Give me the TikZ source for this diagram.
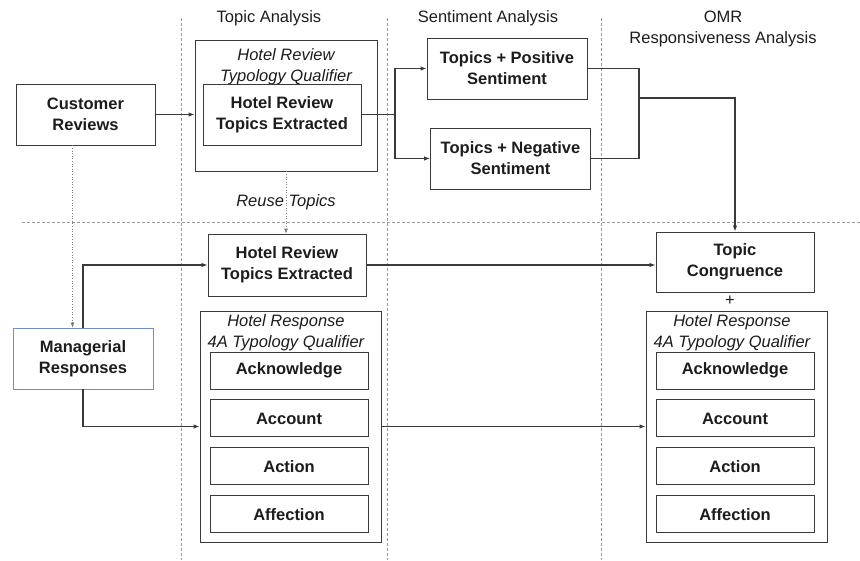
\documentclass[tikz,border=0pt]{standalone}
\usepackage{fontspec}
\setmainfont{Liberation Sans}
\usetikzlibrary{
  arrows.meta,
  positioning
}
\definecolor{flowInk}{HTML}{1C1C1C}
\definecolor{flowLine}{HTML}{3A3A3A}
\definecolor{flowGuide}{HTML}{9A9A9A}
\definecolor{flowBlue}{HTML}{6F8FC6}
\tikzset{
  every node/.style={font=\fontsize{16.5}{21}\selectfont, text=flowInk},
  header/.style={align=center, inner sep=0pt},
  qualifier/.style={align=center, inner sep=0pt, font=\fontsize{16.5}{21}\selectfont\itshape},
  box/.style={
    draw=flowLine,
    line width=0.9pt,
    align=center,
    inner sep=2pt,
    font=\fontsize{16.5}{21}\selectfont\bfseries
  },
  bigbox/.style={box, minimum width=158pt, minimum height=61pt},
  catbox/.style={box, minimum width=158pt, minimum height=37pt},
  frame/.style={draw=flowLine, line width=0.9pt, inner sep=0pt},
  guide/.style={draw=flowGuide, line width=0.6pt, dash pattern=on 3pt off 2pt},
  link/.style={
    -{Latex[length=6pt,width=4.5pt]},
    line width=1.1pt,
    draw=flowLine
  },
  plainlink/.style={line width=1.1pt, draw=flowLine},
  dottedlink/.style={
    -{Latex[length=5pt,width=4pt]},
    line width=0.6pt,
    draw=flowGuide!80!black,
    dotted
  }
}

\begin{document}
\begin{tikzpicture}[x=1pt, y=-1pt, node distance=10pt]
  \useasboundingbox (0,0) rectangle (860,560);

  \draw[guide] (181,18) -- (181,560);
  \draw[guide] (387,18) -- (387,560);
  \draw[guide] (601,18) -- (601,560);
  \draw[guide] (22,222) -- (860,222);

  \node[header] (hTopic) at (269,18) {Topic Analysis};
  \node[header] (hSenti) at (488,18) {Sentiment Analysis};
  \node[header] (hOmr) at (723,29) {OMR\\Responsiveness Analysis};

  \node[bigbox, minimum width=139pt] (cr) at (85.5,114.5) {Customer\\Reviews};
  \node[frame, minimum width=182pt, minimum height=131pt] (typo) at (286,105.5) {};
  \node[qualifier] (typoTitle) at (286,66.5) {Hotel Review\\Typology Qualifier};
  \node[bigbox] (hrte) at (282,114.5) {Hotel Review\\Topics Extracted};

  \node[bigbox, minimum width=160pt] (pos) at (507,68.5) {Topics + Positive\\Sentiment};
  \node[bigbox, minimum width=160pt] (neg) at (510.5,158.5) {Topics + Negative\\Sentiment};

  \coordinate (split) at (395,114.5);
  \coordinate (merge) at (639,98);

  \draw[link] (cr.east) -- (cr.east -| typo.west);
  \draw[plainlink] (hrte.east) -- (split);
  \draw[link] (split) |- (pos.west);
  \draw[link] (split) |- (neg.west);
  \draw[plainlink] (pos.east) -| (merge);
  \draw[plainlink] (neg.east) -| (merge);

  \node[bigbox, minimum height=60pt] (tc) at (735,262) {Topic\\Congruence};
  \draw[link] (merge) -| (tc.north);

  \node[bigbox, minimum height=62pt] (hrte2) at (287,265) {Hotel Review\\Topics Extracted};
  \draw[dottedlink] (typo.south) -- node[qualifier, pos=0.5] (reuse) {Reuse Topics} (typo.south |- hrte2.north);

  \node[bigbox, minimum width=140pt, draw=flowBlue] (mgr) at (83,358.5) {Managerial\\Responses};
  \draw[dottedlink] ([xshift=-13pt]cr.south) -- ([xshift=-13pt]cr.south |- mgr.north);

  \draw[link] (mgr.north) |- (hrte2.west);
  \draw[link] (hrte2.east) -- (hrte2.east -| tc.west);

  \node[frame, minimum width=181pt, minimum height=231pt] (resp) at (290.5,426.5) {};
  \node[qualifier] (respTitle) at (286,333) {Hotel Response\\4A Typology Qualifier};
  \node[catbox] (ack) at (289,370.5) {Acknowledge};
  \node[catbox, below=of ack] (acc) {Account};
  \node[catbox, below=of acc] (act) {Action};
  \node[catbox, below=of act] (aff) {Affection};

  \draw[link] (mgr.south) |- (resp.west);

  \node (plus) at (730,301) {+};
  \node[frame, minimum width=181pt, minimum height=231pt] (resp2) at (736.5,426.5) {};
  \node[qualifier] (resp2Title) at (732,333) {Hotel Response\\4A Typology Qualifier};
  \node[catbox] (ack2) at (735,370.5) {Acknowledge};
  \node[catbox, below=of ack2] (acc2) {Account};
  \node[catbox, below=of acc2] (act2) {Action};
  \node[catbox, below=of act2] (aff2) {Affection};

  \draw[link] (resp.east) -- (resp2.west);
\end{tikzpicture}
\end{document}
